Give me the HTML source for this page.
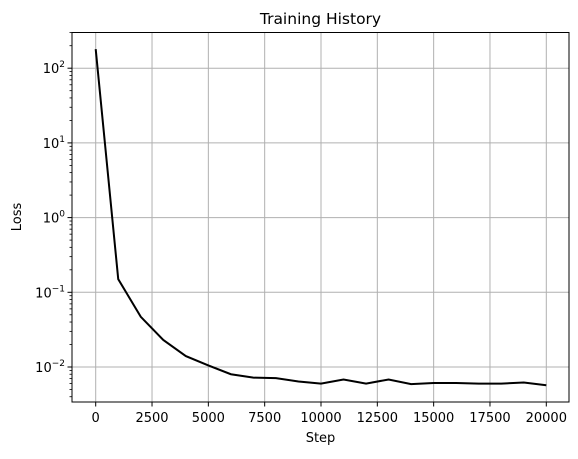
<!DOCTYPE html>
<html><head><meta charset="utf-8"><style>
body{margin:0;background:#fff;font-family:"DejaVu Sans","Liberation Sans",sans-serif;}
svg text{font-family:"DejaVu Sans","Liberation Sans",sans-serif;}
</style></head><body>
<svg id="c" width="578" height="455" xmlns="http://www.w3.org/2000/svg"></svg>
<script>
const steps=[0,1000,2000,3000,4000,5000,6000,7000,8000,9000,10000,11000,12000,13000,14000,15000,16000,17000,18000,19000,20000];
const losses=[180,0.15,0.047,0.023,0.014,0.0105,0.008,0.0072,0.0071,0.0064,0.006,0.0068,0.006,0.0068,0.0059,0.0061,0.0061,0.006,0.006,0.0062,0.0057];
const xTicks=[0,2500,5000,7500,10000,12500,15000,17500,20000];
const yTickExps=[-2,-1,0,1,2];
const L=72,R=569,T=32.5,B=402;
const X=v=>95.7+v*(546.3-95.7)/20000;
const Y=v=>367-(Math.log10(v)+2)*74.7;
const s=document.getElementById('c');const ns='http://www.w3.org/2000/svg';
function mk(t,a,p){const e=document.createElementNS(ns,t);for(const k in a)e.setAttribute(k,a[k]);(p||s).appendChild(e);return e;}
const grid=mk('g',{});


xTicks.forEach(v=>{const x=X(v);
mk('line',{x1:x,x2:x,y1:T,y2:B,stroke:'#b0b0b0','stroke-width':1},grid);
mk('line',{x1:x,x2:x,y1:B,y2:B+4.5,stroke:'#000','stroke-width':1});
const t=mk('text',{x:x,y:B+20,'font-size':13,'text-anchor':'middle'});t.textContent=v;

});
yTickExps.forEach(e=>{const y=Y(Math.pow(10,e));
mk('line',{x1:L,x2:R,y1:y,y2:y,stroke:'#b0b0b0','stroke-width':1},grid);
mk('line',{x1:L-4.5,x2:L,y1:y,y2:y,stroke:'#000','stroke-width':1});
const t=mk('text',{x:L-7,y:y+5,'font-size':13,'text-anchor':'end'});
t.innerHTML='10<tspan dy="-6" font-size="9">'+(e<0?'\u2212'+(-e):e)+'</tspan>';

});
for(let e=-3;e<=2;e++)for(let m=2;m<=9;m++){const v=m*Math.pow(10,e);const y=Y(v);if(y<T||y>B)continue;
mk('line',{x1:L-2.5,x2:L,y1:y,y2:y,stroke:'#000','stroke-width':0.8});}
const line=mk('polyline',{points:steps.map((v,i)=>X(v)+','+Y(losses[i])).join(' '),fill:'none',stroke:'#000','stroke-width':2});


const fr=mk('rect',{x:L,y:T,width:R-L,height:B-T,fill:'none',stroke:'#000','stroke-width':1});


const ti=mk('text',{x:(L+R)/2,y:24,'font-size':15.5,'text-anchor':'middle'});ti.textContent='Training History';


const xl=mk('text',{x:(L+R)/2,y:442,'font-size':13,'text-anchor':'middle'});xl.textContent='Step';


const yl=mk('text',{x:0,y:0,'font-size':13,'text-anchor':'middle',transform:'translate(21,217) rotate(-90)'});yl.textContent='Loss';


</script>
</body></html>
